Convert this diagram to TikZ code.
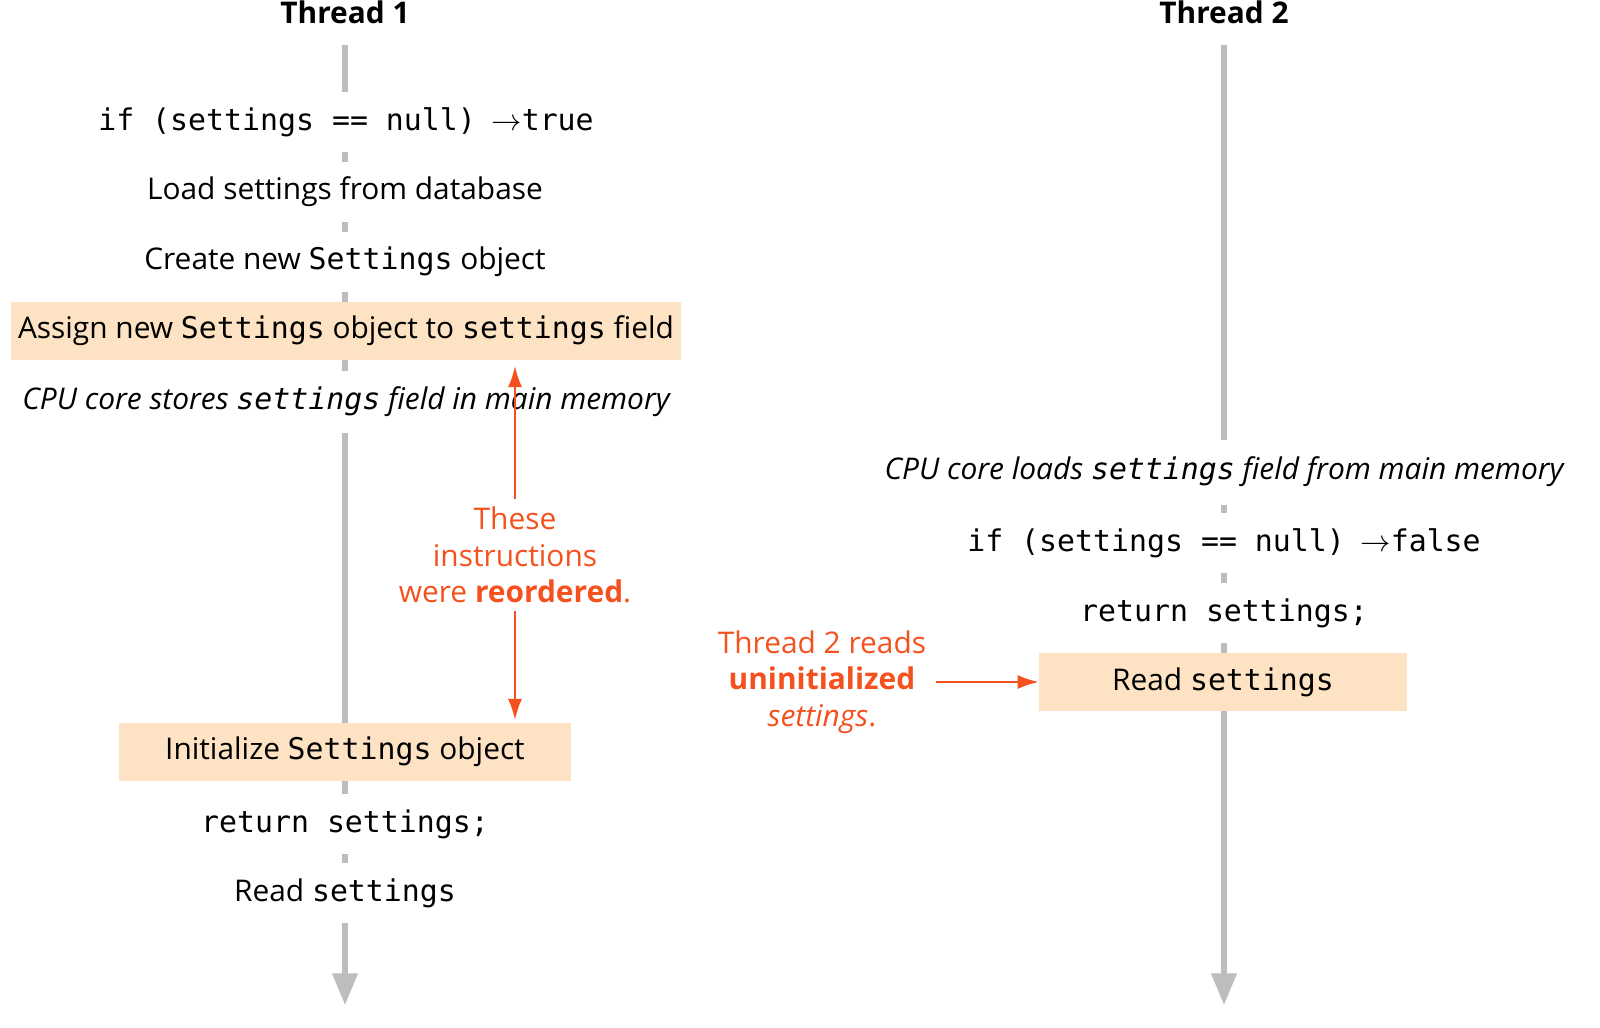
\documentclass[tikz,border=0pt]{standalone}
\usepackage{fontspec}
\setmainfont{Open Sans}
\setmonofont{DejaVu Sans Mono}
\usetikzlibrary{arrows.meta,positioning}

\definecolor{boxfill}{HTML}{FDE3C3}
\definecolor{alert}{HTML}{F4511E}
\definecolor{lane}{HTML}{BDBDBD}

\begin{document}
\begin{tikzpicture}[x=0.02cm,y=-0.02cm,
	every node/.style={font=\fontsize{17}{20}\selectfont,inner sep=1pt},
	stage/.style={fill=white,minimum height=1.2cm},
	hot/.style={fill=boxfill,minimum height=1.16cm,inner sep=0pt},
	note/.style={text=alert,align=center,font=\fontsize{17}{20.8}\selectfont},
	lane/.style={draw=lane,line width=3pt,-{Triangle[width=14pt,length=18pt]}},
	push/.style={draw=alert,line width=1.2pt,-{Latex[width=8pt,length=12pt]}}]

	\useasboundingbox (0,0) rectangle (1600,1028);

	% lanes
	\coordinate (t1-top) at (345,45);
	\coordinate (t1-end) at (345,1005);
	\coordinate (t2-top) at (1224,45);
	\coordinate (t2-end) at (1224,1005);
	\draw [lane] (t1-top) -- (t1-end);
	\draw [lane] (t2-top) -- (t2-end);

	\node [font=\fontsize{17}{20}\bfseries] (t1-title) at (345,12) {Thread 1};
	\node [font=\fontsize{17}{20}\bfseries] (t2-title) at (1224,12) {Thread 2};

	%%%%%%%%%%%%%%%%%%%%%%%%%%%%%%%%%%%%%%%%%%%%%%%%%%%%%%

	\node [stage] (t1-check) at (346,122) {\texttt{if (settings == null)} \ $\rightarrow$\texttt{true}};
	\node [stage] (t1-load) at (345,192) {Load settings from database};
	\node [stage] (t1-create) at (345,262) {Create new \texttt{Settings} object};
	\node [hot,minimum width=13.4cm] (t1-assign) at (346,331) {Assign new \texttt{Settings} object to \texttt{settings} field};
	\node [stage,minimum height=1.25cm,font=\fontsize{17}{20}\itshape] (t1-store) at (346,402) {CPU core stores \texttt{settings} field in main memory};
	\node [hot,minimum width=9.06cm] (t1-init) at (345,752) {Initialize \texttt{Settings} object};
	\node [stage] (t1-return) at (345,824) {\texttt{return settings;}};
	\node [stage,minimum height=1.2cm] (t1-read) at (345,893) {Read \texttt{settings}};

	%%%%%%%%%%%%%%%%%%%%%%%%%%%%%%%%%%%%%%%%%%%%%%%%%%%%%%

	\node [stage,minimum height=1.3cm,font=\fontsize{17}{20}\itshape] (t2-load) at (1224,472) {CPU core loads \texttt{settings} field from main memory};
	\node [stage] (t2-check) at (1224,543) {\texttt{if (settings == null)} \ $\rightarrow$\texttt{false}};
	\node [stage] (t2-return) at (1224,613) {\texttt{return settings;}};
	\node [hot,minimum width=7.36cm] (t2-read) at (1223,682) {Read \texttt{settings}};

	%%%%%%%%%%%%%%%%%%%%%%%%%%%%%%%%%%%%%%%%%%%%%%%%%%%%%%

	\node [note] (reorder) at (515,555) {These\\instructions\\were \textbf{reordered}.};
	\coordinate (reorder-up) at (515,366);
	\coordinate (reorder-down) at (515,720);
	\draw [push] (reorder.north) ++(0,-6) -- (reorder-up);
	\draw [push] (reorder.south) ++(0,6) -- (reorder-down);

	\node [note] (stale) at (822,682) {Thread 2 reads\\\textbf{uninitialized}\\\textit{settings}.};
	\draw [push] (stale.east) ++(8,0) -- (t2-read.west);

\end{tikzpicture}
\end{document}
